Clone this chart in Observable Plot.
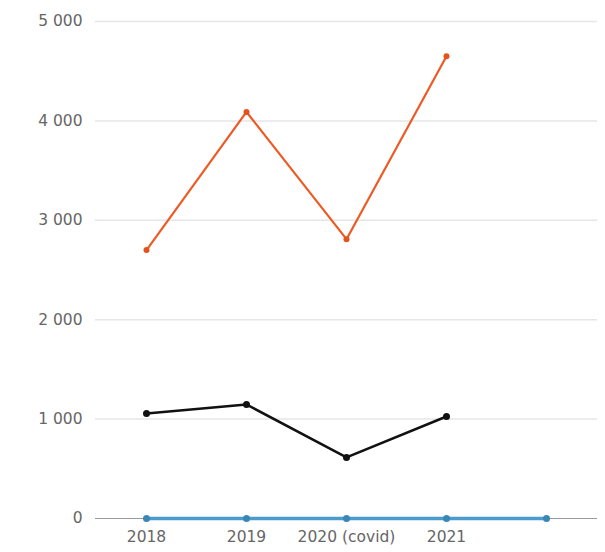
<!DOCTYPE html>
<html>
<head>
<meta charset="utf-8">
<script src="https://cdn.jsdelivr.net/npm/d3@7"></script>
<script src="https://cdn.jsdelivr.net/npm/@observablehq/plot@0.6"></script>
<style>
  html, body { margin: 0; padding: 0; background: #fff; }
  #chart svg { display: block; }
</style>
</head>
<body>
<div id="chart"></div>
<script>
const categories = ["2018", "2019", "2020 (covid)", "2021", ""];
const orangeValues = [2700, 4090, 2810, 4650];
const blackValues = [1056, 1147, 614, 1026];
const blueValues = [0, 0, 0, 0, 0];
const yTicks = [0, 1000, 2000, 3000, 4000, 5000];

const toRows = (vals, series) => vals.map((v, i) => ({cat: categories[i], value: v, series}));
const orange = toRows(orangeValues, "orange");
const black = toRows(blackValues, "black");
const blue = toRows(blueValues, "blue");

const fmt = v => d3.format(",")(v).replace(/,/g, " ");

const chart = Plot.plot({
  width: 605,
  height: 552,
  marginLeft: 95,
  marginRight: 8,
  marginTop: 21,
  marginBottom: 34,
  style: {fontFamily: "'DejaVu Sans', sans-serif", fontSize: "15.5px", color: "#666", background: "#fff"},
  x: {type: "point", domain: categories, padding: 0.5, label: null},
  y: {domain: [0, 5000], label: null},
  marks: [
    Plot.gridY(yTicks.filter(d => d > 0), {stroke: "#e6e6e6", strokeOpacity: 1, strokeWidth: 1.5}),
    Plot.ruleY([0], {stroke: "#999", strokeWidth: 1.2}),
    Plot.axisY(yTicks, {tickSize: 0, tickPadding: 13, tickFormat: fmt, fill: "#666", fontSize: 15.5}),
    Plot.axisX({tickSize: 0, tickPadding: 12, fill: "#666", fontSize: 15.5}),
    Plot.line(blue, {x: "cat", y: "value", stroke: "#4b9ccc", strokeWidth: 3.5}),
    Plot.dot(blue, {x: "cat", y: "value", r: 3.5, fill: "#3a86b5"}),
    Plot.line(black, {x: "cat", y: "value", stroke: "#111", strokeWidth: 2.5}),
    Plot.dot(black, {x: "cat", y: "value", r: 3.5, fill: "#111"}),
    Plot.line(orange, {x: "cat", y: "value", stroke: "#ee5a24", strokeWidth: 2.2}),
    Plot.dot(orange, {x: "cat", y: "value", r: 3, fill: "#e4521e"})
  ]
});
document.getElementById("chart").appendChild(chart);
</script>
</body>
</html>
